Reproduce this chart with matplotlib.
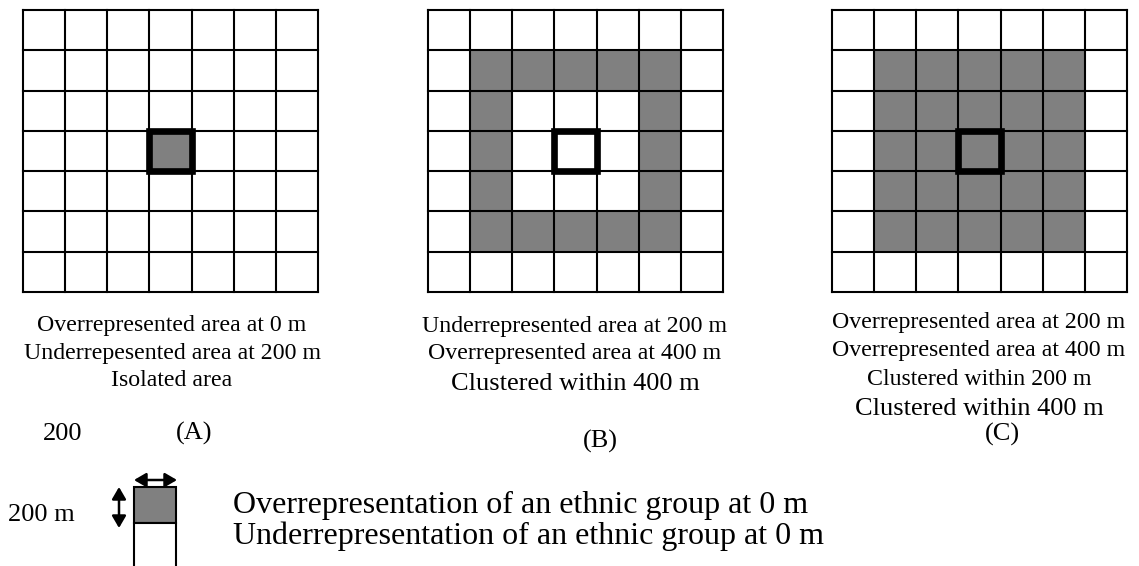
import matplotlib.pyplot as plt
from matplotlib.patches import Rectangle

plt.rcParams["font.family"] = ["Liberation Serif", "DejaVu Serif"]

# 1 = overrepresented cell (grey), 0 = plain cell
grid_a = [
    [0, 0, 0, 0, 0, 0, 0],
    [0, 0, 0, 0, 0, 0, 0],
    [0, 0, 0, 0, 0, 0, 0],
    [0, 0, 0, 1, 0, 0, 0],
    [0, 0, 0, 0, 0, 0, 0],
    [0, 0, 0, 0, 0, 0, 0],
    [0, 0, 0, 0, 0, 0, 0],
]
grid_b = [
    [0, 0, 0, 0, 0, 0, 0],
    [0, 1, 1, 1, 1, 1, 0],
    [0, 1, 0, 0, 0, 1, 0],
    [0, 1, 0, 0, 0, 1, 0],
    [0, 1, 0, 0, 0, 1, 0],
    [0, 1, 1, 1, 1, 1, 0],
    [0, 0, 0, 0, 0, 0, 0],
]
grid_c = [
    [0, 0, 0, 0, 0, 0, 0],
    [0, 1, 1, 1, 1, 1, 0],
    [0, 1, 1, 1, 1, 1, 0],
    [0, 1, 1, 1, 1, 1, 0],
    [0, 1, 1, 1, 1, 1, 0],
    [0, 1, 1, 1, 1, 1, 0],
    [0, 0, 0, 0, 0, 0, 0],
]
grids = [grid_a, grid_b, grid_c]

captions_a = ["Overrepresented area at 0 m", "Underrepesented area at 200 m", "Isolated area"]
captions_b = ["Underrepresented area at 200 m", "Overrepresented area at 400 m", "Clustered within 400 m"]
captions_c = ["Overrepresented area at 200 m", "Overrepresented area at 400 m",
              "Clustered within 200 m", "Clustered within 400 m"]
panel_labels = ["(A)", "(B)", "(C)"]
legend_labels = ["Overrepresentation of an ethnic group at 0 m",
                 "Underrepresentation of an ethnic group at 0 m"]

GREY = "#808080"

fig = plt.figure(figsize=(11.39, 5.66), dpi=100)
ax = fig.add_axes([0, 0, 1, 1])
ax.set_xlim(0, 1139)
ax.set_ylim(566, 0)
ax.axis("off")

# grid layout in pixels
lefts = [22.7, 427.7, 831.7]
top = 10
cw = 42.2
ch = 40.25

for g, x0 in zip(grids, lefts):
    n = len(g)
    for r in range(n):
        for c in range(n):
            if g[r][c]:
                ax.add_patch(Rectangle((x0 + c * cw, top + r * ch), cw, ch,
                                       facecolor=GREY, edgecolor="none"))
    for i in range(n + 1):
        ax.plot([x0 + i * cw, x0 + i * cw], [top, top + n * ch], color="black", lw=1.5)
        ax.plot([x0, x0 + n * cw], [top + i * ch, top + i * ch], color="black", lw=1.5)
    # focal cell
    ax.add_patch(Rectangle((x0 + 3 * cw, top + 3 * ch), cw, ch,
                           facecolor="none", edgecolor="black", lw=4.8, joinstyle="miter"))

# captions
small = 17.2
big = 19
ys_a = [330.7, 359.3, 386]
for t, y in zip(captions_a, ys_a):
    ax.text(172, y, t, fontsize=small, ha="center", va="baseline")
ys_b = [331.7, 359, 390]
sz_b = [small, small, big]
for t, y, s in zip(captions_b, ys_b, sz_b):
    ax.text(575, y, t, fontsize=s, ha="center", va="baseline")
ys_c = [328, 356, 385, 415]
sz_c = [small, small, small, big]
for t, y, s in zip(captions_c, ys_c, sz_c):
    ax.text(979, y, t, fontsize=s, ha="center", va="baseline")

ax.text(43, 440, "200", fontsize=big, ha="left", va="baseline")
ax.text(194, 440, panel_labels[0], fontsize=big, ha="center", va="baseline")
ax.text(600, 448, panel_labels[1], fontsize=big, ha="center", va="baseline")
ax.text(1002, 441, panel_labels[2], fontsize=big, ha="center", va="baseline")

# legend
ax.text(8, 521, "200 m", fontsize=big, ha="left", va="baseline")
ax.add_patch(Rectangle((134, 487), 42, 36, facecolor=GREY, edgecolor="black", lw=1.5))
ax.add_patch(Rectangle((134, 523), 42, 60, facecolor="white", edgecolor="black", lw=1.5))
arrow = dict(arrowstyle="<|-|>,head_length=0.6,head_width=0.35",
             color="black", lw=1.8, mutation_scale=12, shrinkA=0, shrinkB=0)
ax.annotate("", xy=(177, 480), xytext=(134, 480), arrowprops=arrow)
ax.annotate("", xy=(119, 528), xytext=(119, 487), arrowprops=arrow)
ax.text(233, 513, legend_labels[0], fontsize=23, ha="left", va="baseline")
ax.text(233, 544, legend_labels[1], fontsize=23, ha="left", va="baseline")

fig.savefig("out.png", dpi=100)
